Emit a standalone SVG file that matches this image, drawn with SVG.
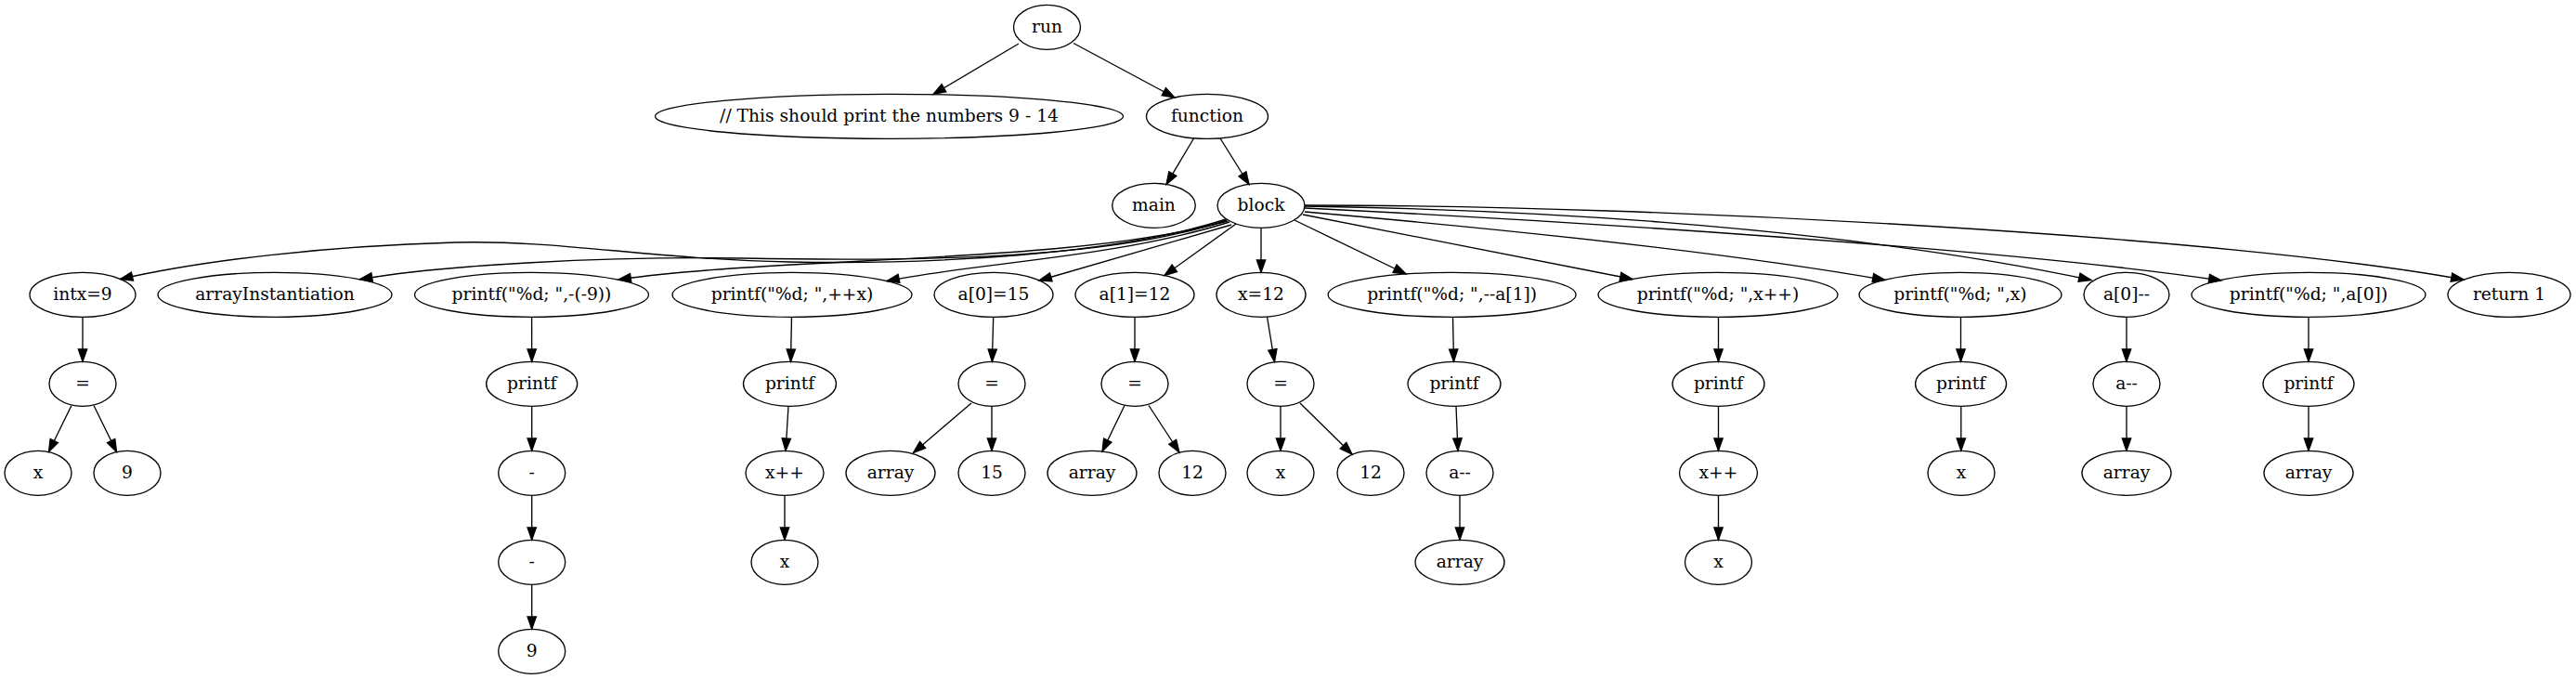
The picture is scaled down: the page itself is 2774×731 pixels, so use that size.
<svg xmlns="http://www.w3.org/2000/svg" width="2774" height="731" viewBox="0 0 2774 731">
<style>
.node ellipse{fill:none;stroke:#000;stroke-width:1.33}
.node text{font-family:"DejaVu Serif","Liberation Serif",serif;font-size:18.67px;text-anchor:middle;fill:#000}
.edges path{fill:none;stroke:#000;stroke-width:1.33;marker-end:url(#ah)}
</style>
<defs>
<marker id="ah" markerUnits="userSpaceOnUse" markerWidth="16" markerHeight="12" refX="13.3" refY="4.67" orient="auto" overflow="visible">
<path d="M0,0 L13.3,4.67 L0,9.33 Z" fill="#000" stroke="#000" stroke-width="1.33"/>
</marker>
</defs>
<rect width="2774" height="731" fill="#fff"/>
<g class="edges" id="edges">
<path d="M1097,47 L1005,101.5"/>
<path d="M1156,46.5 L1265,105"/>
<path d="M1285.5,149 L1256,198.5"/>
<path d="M1314,149 L1345,198.5"/>
<path d="M1320,236 C1200,275 1000,285 850,282 C700,279 600,258 490,261 C350,265 220,280 129.5,300.5"/>
<path d="M1321,237 C1200,278 1000,282 800,278 C650,276 480,285 387.5,300.7"/>
<path d="M1322,238 C1150,285 850,275 666,301"/>
<path d="M1324,239 C1200,278 1050,283 955,302.5"/>
<path d="M1326,242 L1119,302"/>
<path d="M1331,241 L1254,296.5"/>
<path d="M1358,245.3 L1358,293.3"/>
<path d="M1394,237 L1514,295"/>
<path d="M1403,231 L1758,300.5"/>
<path d="M1405,228 C1600,245 1850,270 2030,301.5"/>
<path d="M1405,222 C1600,225 1950,238 2252,301.5"/>
<path d="M1405,224 C1650,236 2150,266 2392,302"/>
<path d="M1405,221 C1800,221 2400,255 2653,301"/>
<path d="M89,341.3 L89,389.3"/>
<path d="M77,436.5 L52.5,486.5"/>
<path d="M101,436.5 L125.5,486.5"/>
<path d="M572.6,341.3 L572.7,389.3"/>
<path d="M572.7,437.3 L572.7,485.3"/>
<path d="M572.7,533.3 L572.7,581.3"/>
<path d="M572.7,629.3 L572.7,677.3"/>
<path d="M852.5,341.3 L851.5,389.3"/>
<path d="M849,437.3 L846,485.3"/>
<path d="M845,533.3 L845,581.3"/>
<path d="M1069.7,341.3 L1068.4,389.3"/>
<path d="M1046,434 L983.5,487.5"/>
<path d="M1068,437.3 L1068,485.3"/>
<path d="M1222,341.3 L1222,389.3"/>
<path d="M1211,436.5 L1187,486"/>
<path d="M1237,436.5 L1270,487"/>
<path d="M1364.5,341 L1372.5,389.5"/>
<path d="M1379,437.3 L1379,485.3"/>
<path d="M1400,434 L1456,489"/>
<path d="M1564.5,341.3 L1565.5,389.3"/>
<path d="M1568,437.3 L1570,485.3"/>
<path d="M1572,533.3 L1572,581.3"/>
<path d="M1850.5,341.3 L1850.5,389.3"/>
<path d="M1850.5,437.3 L1850.5,485.3"/>
<path d="M1850.5,533.3 L1850.5,581.3"/>
<path d="M2111.5,341.3 L2111.5,389.3"/>
<path d="M2111.8,437.3 L2111.8,485.3"/>
<path d="M2290,341.3 L2290,389.3"/>
<path d="M2290,437.3 L2290,485.3"/>
<path d="M2486,341.3 L2486,389.3"/>
<path d="M2486,437.3 L2486,485.3"/>
</g>
<g id="n_run" class="node"><ellipse cx="1127.5" cy="29.3" rx="36" ry="24"/><text x="1127.5" y="34.8">run</text></g>
<g id="n_comment" class="node"><ellipse cx="957.5" cy="125.3" rx="252" ry="24"/><text x="957.5" y="130.8">// This should print the numbers 9 - 14</text></g>
<g id="n_function" class="node"><ellipse cx="1300" cy="125.3" rx="65.5" ry="24"/><text x="1300" y="130.8">function</text></g>
<g id="n_main" class="node"><ellipse cx="1242.5" cy="221.3" rx="44.8" ry="24"/><text x="1242.5" y="226.8">main</text></g>
<g id="n_block" class="node"><ellipse cx="1358" cy="221.3" rx="47" ry="24"/><text x="1358" y="226.8">block</text></g>
<g id="n_intx" class="node"><ellipse cx="89" cy="317.3" rx="57" ry="24"/><text x="89" y="322.8">intx=9</text></g>
<g id="n_arrInst" class="node"><ellipse cx="296" cy="317.3" rx="126" ry="24"/><text x="296" y="322.8">arrayInstantiation</text></g>
<g id="n_pr1" class="node"><ellipse cx="572.5" cy="317.3" rx="126" ry="24"/><text x="572.5" y="322.8">printf("%d; ",-(-9))</text></g>
<g id="n_pr2" class="node"><ellipse cx="853" cy="317.3" rx="129" ry="24"/><text x="853" y="322.8">printf("%d; ",++x)</text></g>
<g id="n_a0eq" class="node"><ellipse cx="1070" cy="317.3" rx="64" ry="24"/><text x="1070" y="322.8">a[0]=15</text></g>
<g id="n_a1eq" class="node"><ellipse cx="1222" cy="317.3" rx="64" ry="24"/><text x="1222" y="322.8">a[1]=12</text></g>
<g id="n_x12" class="node"><ellipse cx="1358" cy="317.3" rx="48" ry="24"/><text x="1358" y="322.8">x=12</text></g>
<g id="n_pr3" class="node"><ellipse cx="1563.6" cy="317.3" rx="133.5" ry="24"/><text x="1563.6" y="322.8">printf("%d; ",--a[1])</text></g>
<g id="n_pr4" class="node"><ellipse cx="1850" cy="317.3" rx="129" ry="24"/><text x="1850" y="322.8">printf("%d; ",x++)</text></g>
<g id="n_pr5" class="node"><ellipse cx="2111" cy="317.3" rx="109" ry="24"/><text x="2111" y="322.8">printf("%d; ",x)</text></g>
<g id="n_a0dec" class="node"><ellipse cx="2290" cy="317.3" rx="46" ry="24"/><text x="2290" y="322.8">a[0]--</text></g>
<g id="n_pr6" class="node"><ellipse cx="2486" cy="317.3" rx="126" ry="24"/><text x="2486" y="322.8">printf("%d; ",a[0])</text></g>
<g id="n_ret" class="node"><ellipse cx="2702" cy="317.3" rx="66" ry="24"/><text x="2702" y="322.8">return 1</text></g>
<g id="n_eq1" class="node"><ellipse cx="89" cy="413.3" rx="36" ry="24"/><text x="89" y="418.8">=</text></g>
<g id="n_printf1" class="node"><ellipse cx="572.7" cy="413.3" rx="49" ry="24"/><text x="572.7" y="418.8">printf</text></g>
<g id="n_printf2" class="node"><ellipse cx="850.5" cy="413.3" rx="50" ry="24"/><text x="850.5" y="418.8">printf</text></g>
<g id="n_eq2" class="node"><ellipse cx="1068" cy="413.3" rx="36" ry="24"/><text x="1068" y="418.8">=</text></g>
<g id="n_eq3" class="node"><ellipse cx="1222" cy="413.3" rx="36" ry="24"/><text x="1222" y="418.8">=</text></g>
<g id="n_eq4" class="node"><ellipse cx="1379" cy="413.3" rx="36" ry="24"/><text x="1379" y="418.8">=</text></g>
<g id="n_printf3" class="node"><ellipse cx="1566" cy="413.3" rx="50" ry="24"/><text x="1566" y="418.8">printf</text></g>
<g id="n_printf4" class="node"><ellipse cx="1850.5" cy="413.3" rx="49.5" ry="24"/><text x="1850.5" y="418.8">printf</text></g>
<g id="n_printf5" class="node"><ellipse cx="2111.6" cy="413.3" rx="49" ry="24"/><text x="2111.6" y="418.8">printf</text></g>
<g id="n_adec1" class="node"><ellipse cx="2290" cy="413.3" rx="36" ry="24"/><text x="2290" y="418.8">a--</text></g>
<g id="n_printf6" class="node"><ellipse cx="2486" cy="413.3" rx="49" ry="24"/><text x="2486" y="418.8">printf</text></g>
<g id="n_x1" class="node"><ellipse cx="41" cy="509.3" rx="36" ry="24"/><text x="41" y="514.8">x</text></g>
<g id="n_9a" class="node"><ellipse cx="137" cy="509.3" rx="36" ry="24"/><text x="137" y="514.8">9</text></g>
<g id="n_minus1" class="node"><ellipse cx="572.7" cy="509.3" rx="36" ry="24"/><text x="572.7" y="514.8">-</text></g>
<g id="n_xpp1" class="node"><ellipse cx="845" cy="509.3" rx="42" ry="24"/><text x="845" y="514.8">x++</text></g>
<g id="n_array1" class="node"><ellipse cx="959" cy="509.3" rx="48" ry="24"/><text x="959" y="514.8">array</text></g>
<g id="n_15" class="node"><ellipse cx="1068" cy="509.3" rx="36" ry="24"/><text x="1068" y="514.8">15</text></g>
<g id="n_array2" class="node"><ellipse cx="1176" cy="509.3" rx="48" ry="24"/><text x="1176" y="514.8">array</text></g>
<g id="n_12a" class="node"><ellipse cx="1284" cy="509.3" rx="36" ry="24"/><text x="1284" y="514.8">12</text></g>
<g id="n_x2" class="node"><ellipse cx="1379" cy="509.3" rx="36" ry="24"/><text x="1379" y="514.8">x</text></g>
<g id="n_12b" class="node"><ellipse cx="1476" cy="509.3" rx="36" ry="24"/><text x="1476" y="514.8">12</text></g>
<g id="n_adec2" class="node"><ellipse cx="1572" cy="509.3" rx="36" ry="24"/><text x="1572" y="514.8">a--</text></g>
<g id="n_xpp2" class="node"><ellipse cx="1850.5" cy="509.3" rx="42" ry="24"/><text x="1850.5" y="514.8">x++</text></g>
<g id="n_x3" class="node"><ellipse cx="2112" cy="509.3" rx="36" ry="24"/><text x="2112" y="514.8">x</text></g>
<g id="n_array3" class="node"><ellipse cx="2290" cy="509.3" rx="48" ry="24"/><text x="2290" y="514.8">array</text></g>
<g id="n_array4" class="node"><ellipse cx="2486" cy="509.3" rx="48" ry="24"/><text x="2486" y="514.8">array</text></g>
<g id="n_minus2" class="node"><ellipse cx="572.7" cy="605.3" rx="36" ry="24"/><text x="572.7" y="610.8">-</text></g>
<g id="n_x4" class="node"><ellipse cx="845" cy="605.3" rx="36" ry="24"/><text x="845" y="610.8">x</text></g>
<g id="n_array5" class="node"><ellipse cx="1572" cy="605.3" rx="48" ry="24"/><text x="1572" y="610.8">array</text></g>
<g id="n_x5" class="node"><ellipse cx="1850.5" cy="605.3" rx="36" ry="24"/><text x="1850.5" y="610.8">x</text></g>
<g id="n_9b" class="node"><ellipse cx="572.7" cy="701.3" rx="36" ry="24"/><text x="572.7" y="706.8">9</text></g>
</svg>
